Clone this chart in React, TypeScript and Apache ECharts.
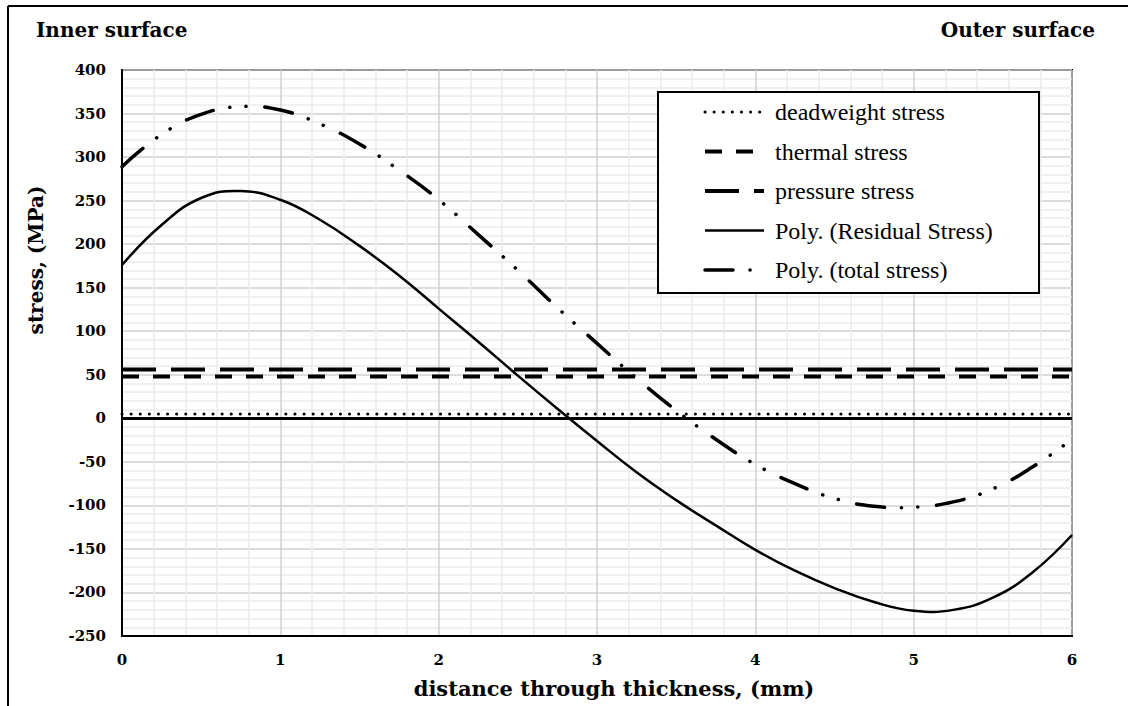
import React, { useEffect, useRef } from "react";
import * as echarts from "echarts";

const xValues = [0, 0.25, 0.5, 0.75, 1, 1.25, 1.5, 1.75, 2, 2.25, 2.5, 2.75, 3, 3.25, 3.5, 3.75, 4, 4.25, 4.5, 4.75, 5, 5.25, 5.5, 5.75, 6];
const residualStress = [176, 222, 253, 261, 251, 228, 198, 164, 126, 88, 49, 11, -26, -62, -94, -123, -151, -175, -195, -211, -221, -220, -206, -177, -134];
const totalStress = [289, 326, 349, 358, 354, 338, 315, 285, 251, 211, 170, 127, 86, 46, 9, -24, -53, -75, -92, -101, -102, -96, -81, -56, -24];
const deadweightStress = 5;
const thermalStress = 48;
const pressureStress = 56;
const xRange = [0, 6];
const yRange = [-250, 400];
const legendNames = ["deadweight stress", "thermal stress", "pressure stress", "Poly. (Residual Stress)", "Poly. (total stress)"];

const BOLD_FONT = "'DejaVu Serif', 'Liberation Serif', serif";
const SERIF = "'Liberation Serif', 'Times New Roman', serif";

const residualLine = { color: "#000", width: 2.5, type: "solid" as any };
const totalDash = [28, 17, 0.1, 16, 0.1, 19];
const totalLine = { color: "#000", width: 3.5, type: totalDash, cap: "round" };

export default function App() {
  const ref = useRef<HTMLDivElement>(null);
  useEffect(() => {
    document.body.style.margin = "0";
    if (!ref.current) return;
    const chart = echarts.init(ref.current, null, { renderer: "svg" });
    const flat = (v: number) => [[xRange[0], v], [xRange[1], v]];
    const pairs = (ys: number[]) => xValues.map((x, i) => [x, ys[i]]);
    const curve = (ys: number[], style: any) => (params: any, api: any) => {
      if (params.dataIndex !== 0) return null;
      const pts = xValues.map((x, i) => api.coord([x, ys[i]]));
      return {
        type: "polyline",
        shape: { points: pts, smooth: 0.45, smoothConstraint: false },
        style: { fill: "none", stroke: "#000", ...style },
        silent: true,
      };
    };
    chart.setOption({
      animation: false,
      backgroundColor: "#fff",
      grid: { left: 122, top: 70, right: 56, bottom: 70, show: true, borderColor: "#000", borderWidth: 2, backgroundColor: "transparent" },
      xAxis: {
        type: "value",
        min: xRange[0],
        max: xRange[1],
        interval: 1,
        name: "distance through thickness, (mm)",
        nameLocation: "middle",
        nameGap: 42,
        nameTextStyle: { fontFamily: BOLD_FONT, fontWeight: "bold", fontSize: 21, color: "#000", padding: [0, 0, 0, 34] },
        axisLine: { onZero: false, lineStyle: { color: "#000", width: 2 } },
        axisTick: { show: false },
        axisLabel: { fontFamily: BOLD_FONT, fontWeight: "bold", fontSize: 15, color: "#000", margin: 16 },
        splitLine: { show: true, lineStyle: { color: "#d0d0d0", width: 1.5 } },
        minorTick: { show: false, splitNumber: 5 },
        minorSplitLine: { show: true, lineStyle: { color: "#ebebeb", width: 1.5 } },
      },
      yAxis: {
        type: "value",
        min: yRange[0],
        max: yRange[1],
        interval: 50,
        name: "stress, (MPa)",
        nameLocation: "middle",
        nameRotate: 90,
        nameGap: 76,
        nameTextStyle: { fontFamily: BOLD_FONT, fontWeight: "bold", fontSize: 20, color: "#000", padding: [0, 0, 0, 186] },
        axisLine: { show: true, lineStyle: { color: "#000", width: 2 } },
        axisTick: { show: false },
        axisLabel: { fontFamily: BOLD_FONT, fontWeight: "bold", fontSize: 15, color: "#000", margin: 16 },
        splitLine: { show: true, lineStyle: { color: "#d0d0d0", width: 1.5 } },
        minorTick: { show: false, splitNumber: 5 },
        minorSplitLine: { show: true, lineStyle: { color: "#ebebeb", width: 1.5 } },
      },
      legend: {
        orient: "vertical",
        left: 703,
        top: 100,
        itemWidth: 59,
        itemHeight: 20,
        itemGap: 15.5,
        padding: 0,
        z: 10,
        itemStyle: { opacity: 0 },
        lineStyle: { width: "inherit" },
        textStyle: { fontFamily: SERIF, fontSize: 24, color: "#000", padding: [0, 0, 0, 6] },
        data: legendNames,
      },
      graphic: [
        { type: "line", shape: { x1: 8, y1: 6, x2: 1128, y2: 6 }, style: { stroke: "#000", lineWidth: 2 } },
        { type: "line", shape: { x1: 8, y1: 6, x2: 8, y2: 706 }, style: { stroke: "#000", lineWidth: 2 } },
        { type: "rect", z: 5, shape: { x: 658, y: 92, width: 381, height: 201 }, style: { fill: "#fff", stroke: "#000", lineWidth: 2 } },
        { type: "text", left: 36, top: 20, style: { text: "Inner surface", font: `bold 20px ${BOLD_FONT}`, fill: "#000" } },
        { type: "text", right: 33, top: 20, style: { text: "Outer surface", font: `bold 20px ${BOLD_FONT}`, fill: "#000" } },
      ],
      series: [
        {
          name: legendNames[0],
          type: "line",
          data: flat(deadweightStress),
          symbol: "none",
          lineStyle: { color: "#000", width: 3, type: [0.1, 9], cap: "round" },
          itemStyle: { color: "#000" },
          z: 3,
        },
        {
          name: legendNames[1],
          type: "line",
          data: flat(thermalStress),
          symbol: "none",
          lineStyle: { color: "#000", width: 4, type: [17, 14] },
          itemStyle: { color: "#000" },
          z: 3,
          markLine: {
            silent: true,
            symbol: "none",
            label: { show: false },
            lineStyle: { color: "#000", width: 3, type: "solid" },
            data: [{ yAxis: 0 }],
          },
        },
        {
          name: legendNames[2],
          type: "line",
          data: flat(pressureStress),
          symbol: "none",
          lineStyle: { color: "#000", width: 4, type: [34, 15] },
          itemStyle: { color: "#000" },
          z: 3,
        },
        // line series carrying the legend style of the two fitted curves
        { name: legendNames[3], type: "line", data: [], symbol: "none", lineStyle: residualLine, itemStyle: { color: "#000" } },
        { name: legendNames[4], type: "line", data: [], symbol: "none", lineStyle: totalLine, itemStyle: { color: "#000" } },
        {
          name: legendNames[3],
          type: "custom",
          data: pairs(residualStress),
          renderItem: curve(residualStress, { lineWidth: 2.5 }),
          z: 3,
        },
        {
          name: legendNames[4],
          type: "custom",
          data: pairs(totalStress),
          renderItem: curve(totalStress, { lineWidth: 3.5, lineDash: totalDash, lineCap: "round" }),
          z: 3,
        },
      ],
    });
    return () => chart.dispose();
  }, []);
  return <div ref={ref} style={{ width: 1128, height: 706 }} />;
}
